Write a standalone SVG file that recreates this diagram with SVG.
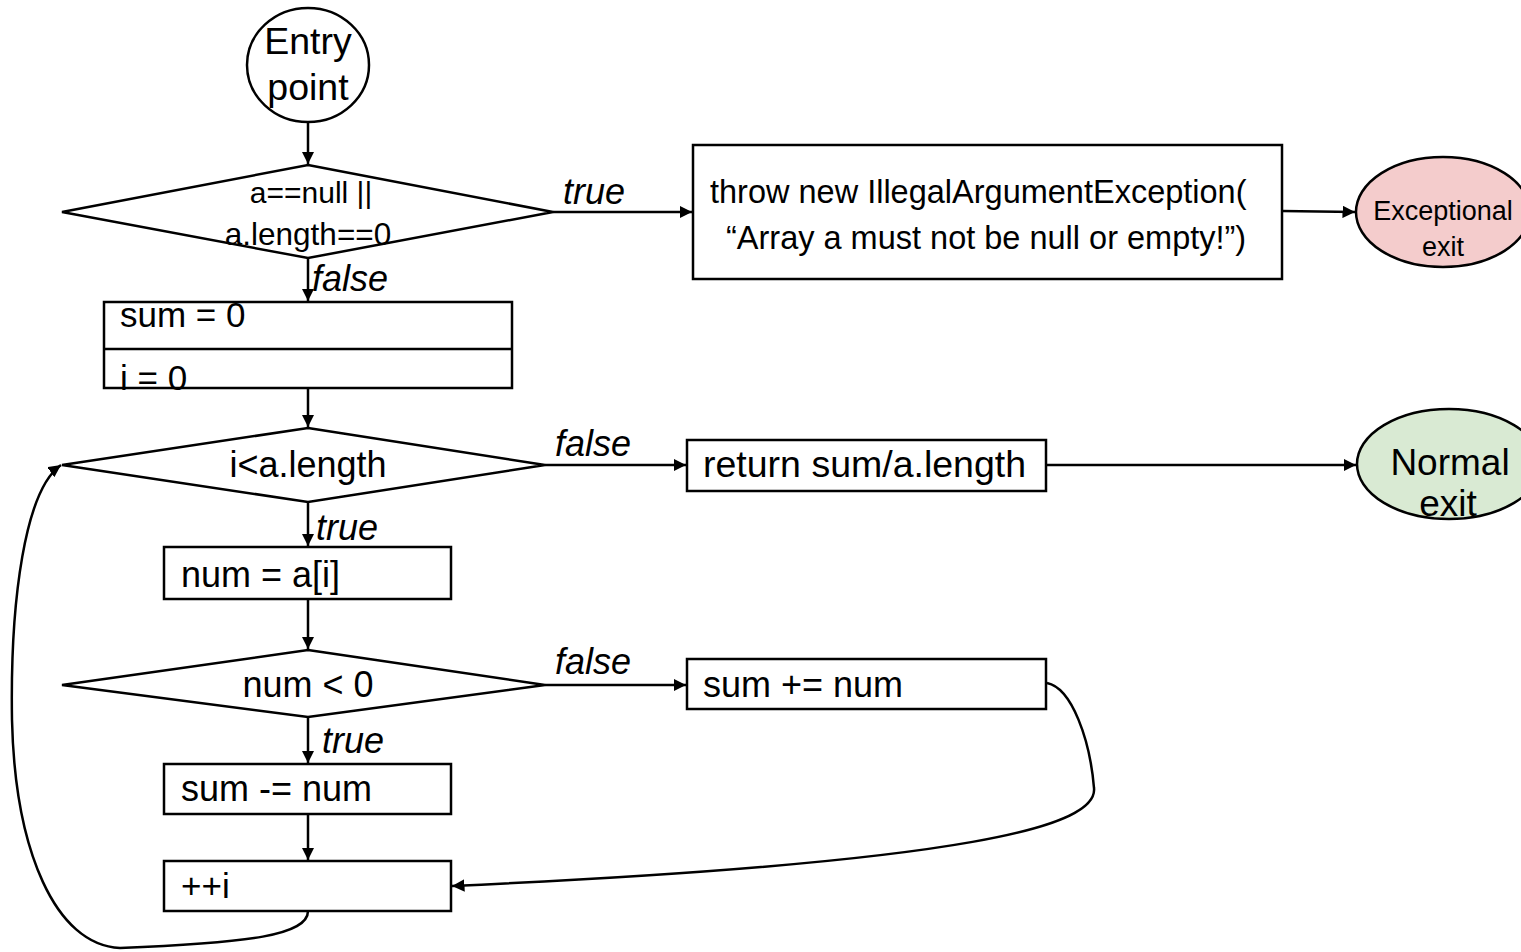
<svg xmlns="http://www.w3.org/2000/svg" width="1521" height="952" viewBox="0 0 1521 952">
  <style>
    .shape { fill: #ffffff; stroke: #000000; stroke-width: 2.5; }
    .lbl { font-family: "Liberation Sans", Arial, sans-serif; fill: #000; }
    .mid { text-anchor: middle; }
    .cond { font-family: "Liberation Sans", Arial, sans-serif; font-style: italic; fill: #000; }
    .edge { fill: none; stroke: #000; stroke-width: 2.5; }
  </style>
  <defs>
    <marker id="arrow" viewBox="0 0 10 10" refX="10" refY="5" markerWidth="5" markerHeight="5" orient="auto" markerUnits="strokeWidth">
      <path d="M0,0 L10,5 L0,10 z" fill="#000"/>
    </marker>
  </defs>

  <!-- connectors -->
  <g id="connectors">
    <path class="edge" d="M308,122 L308,164" marker-end="url(#arrow)"/>
    <path class="edge" d="M553,212 L692,212" marker-end="url(#arrow)"/>
    <path class="edge" d="M1282,211 L1355,212" marker-end="url(#arrow)"/>
    <path class="edge" d="M308,258 L308,301" marker-end="url(#arrow)"/>
    <path class="edge" d="M308,388 L308,427" marker-end="url(#arrow)"/>
    <path class="edge" d="M545,465 L686,465" marker-end="url(#arrow)"/>
    <path class="edge" d="M1046,465 L1356,465" marker-end="url(#arrow)"/>
    <path class="edge" d="M308,502 L308,546" marker-end="url(#arrow)"/>
    <path class="edge" d="M308,599 L308,649" marker-end="url(#arrow)"/>
    <path class="edge" d="M545,685 L686,685" marker-end="url(#arrow)"/>
    <path class="edge" d="M308,717 L308,763" marker-end="url(#arrow)"/>
    <path class="edge" d="M308,814 L308,860" marker-end="url(#arrow)"/>
    <path class="edge" d="M1047,683 C1072,688 1090,740 1094,788 C1098,825 980,862 452,886" marker-end="url(#arrow)"/>
    <path class="edge" d="M308,911 C308,935 250,943 120,948 C55,945 15,850 12,720 C10,600 25,490 61,465" marker-end="url(#arrow)"/>
    <g class="cond" font-size="36">
      <text x="563" y="204">true</text>
      <text x="312" y="291">false</text>
      <text x="555" y="456">false</text>
      <text x="316" y="540">true</text>
      <text x="555" y="674">false</text>
      <text x="322" y="753">true</text>
    </g>
  </g>

  <g id="entry">
    <ellipse class="shape" cx="308" cy="65" rx="61" ry="57"/>
    <text class="lbl mid" x="308" y="54" font-size="37.5">Entry</text>
    <text class="lbl mid" x="308" y="100" font-size="37.5">point</text>
  </g>

  <g id="check-null">
    <polygon class="shape" points="308,165 553,212 308,258 62,212"/>
    <text class="lbl mid" x="311" y="203" font-size="30">a==null ||</text>
    <text class="lbl mid" x="308" y="245" font-size="31.5">a.length==0</text>
  </g>

  <g id="throw">
    <rect class="shape" x="693" y="145" width="589" height="134"/>
    <text class="lbl" x="710" y="203" font-size="32.5">throw new IllegalArgumentException(</text>
    <text class="lbl" x="726" y="249" font-size="32.5">“Array a must not be null or empty!”)</text>
  </g>

  <g id="exceptional-exit">
    <ellipse class="shape" cx="1443" cy="212" rx="87" ry="55" style="fill:#f4cccc"/>
    <text class="lbl mid" x="1443" y="220" font-size="27">Exceptional</text>
    <text class="lbl mid" x="1443" y="256" font-size="27">exit</text>
  </g>

  <g id="init">
    <rect class="shape" x="104" y="302" width="408" height="86"/>
    <line class="edge" x1="104" y1="349" x2="512" y2="349" stroke-width="1.5"/>
    <text class="lbl" x="120" y="327" font-size="35">sum = 0</text>
    <text class="lbl" x="120" y="390" font-size="35">i = 0</text>
  </g>

  <g id="loop-cond">
    <polygon class="shape" points="308,428 545,465 308,502 62,465"/>
    <text class="lbl mid" x="308" y="477" font-size="36">i&lt;a.length</text>
  </g>

  <g id="return">
    <rect class="shape" x="687" y="440" width="359" height="51"/>
    <text class="lbl" x="703" y="477" font-size="37.5">return sum/a.length</text>
  </g>

  <g id="normal-exit">
    <ellipse class="shape" cx="1449" cy="464" rx="92" ry="55" style="fill:#d9ead3"/>
    <text class="lbl mid" x="1450" y="475" font-size="37">Normal</text>
    <text class="lbl mid" x="1448" y="516" font-size="37">exit</text>
  </g>

  <g id="load-num">
    <rect class="shape" x="164" y="547" width="287" height="52"/>
    <text class="lbl" x="181" y="587" font-size="36">num = a[i]</text>
  </g>

  <g id="sign-check">
    <polygon class="shape" points="308,650 545,685 308,717 62,685"/>
    <text class="lbl mid" x="308" y="697" font-size="36">num &lt; 0</text>
  </g>

  <g id="add">
    <rect class="shape" x="687" y="659" width="359" height="50"/>
    <text class="lbl" x="703" y="697" font-size="36">sum += num</text>
  </g>

  <g id="subtract">
    <rect class="shape" x="164" y="764" width="287" height="50"/>
    <text class="lbl" x="181" y="801" font-size="36">sum -= num</text>
  </g>

  <g id="increment">
    <rect class="shape" x="164" y="861" width="287" height="50"/>
    <text class="lbl" x="181" y="898" font-size="35">++i</text>
  </g>
</svg>
